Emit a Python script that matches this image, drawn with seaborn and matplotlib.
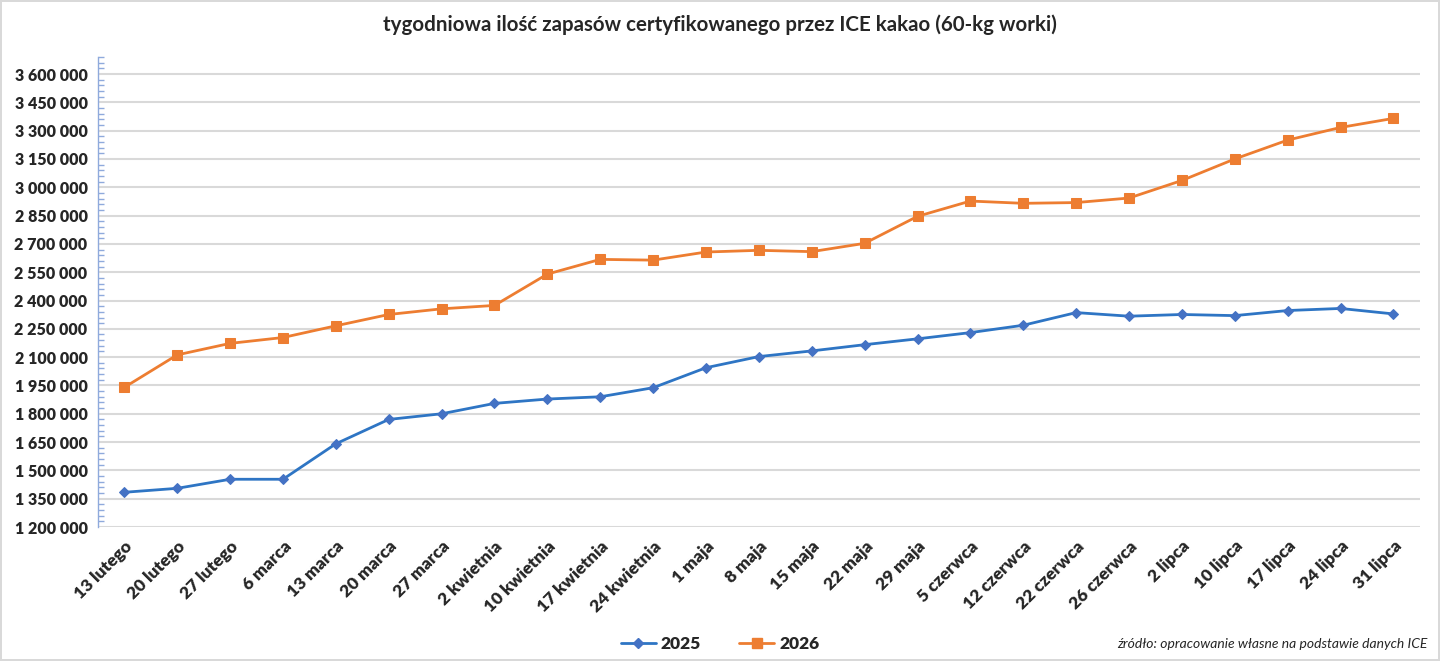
import pandas as pd
import matplotlib
matplotlib.use("Agg")
import matplotlib.pyplot as plt
import seaborn as sns
from matplotlib.ticker import FuncFormatter, MultipleLocator
from matplotlib.lines import Line2D

# Data
weeks = ["13 lutego", "20 lutego", "27 lutego", "6 marca", "13 marca", "20 marca",
         "27 marca", "2 kwietnia", "10 kwietnia", "17 kwietnia", "24 kwietnia",
         "1 maja", "8 maja", "15 maja", "22 maja", "29 maja", "5 czerwca",
         "12 czerwca", "22 czerwca", "26 czerwca", "2 lipca", "10 lipca",
         "17 lipca", "24 lipca", "31 lipca"]

stock_2025 = [1384000, 1405000, 1453000, 1453000, 1641000, 1770000, 1800000,
              1855000, 1878000, 1890000, 1938000, 2044000, 2103000, 2133000,
              2166000, 2197000, 2230000, 2269000, 2336000, 2317000, 2326000,
              2320000, 2347000, 2358000, 2329000]

stock_2026 = [1940000, 2112000, 2173000, 2204000, 2266000, 2326000, 2356000,
              2374000, 2540000, 2618000, 2614000, 2657000, 2666000, 2659000,
              2703000, 2846000, 2927000, 2915000, 2919000, 2943000, 3036000,
              3150000, 3250000, 3317000, 3365000]

df = pd.DataFrame({"pos": range(len(weeks)), "2025": stock_2025, "2026": stock_2026})

sns.set_style("white")
plt.rcParams['font.family'] = ['Lato', 'DejaVu Sans']

fig = plt.figure(figsize=(14.4, 6.61), dpi=100)
fig.patch.set_edgecolor("#D9D9D9")
fig.patch.set_linewidth(1.5)
ax = fig.add_axes([0.068, 0.2027, 0.918, 0.711])

blue_line = "#2E75C4"
blue_mark = "#4472C4"
orange = "#ED7D31"

sns.lineplot(data=df, x="pos", y="2025", ax=ax, color=blue_line, linewidth=2,
             marker="D", markersize=5, markerfacecolor=blue_mark,
             markeredgecolor=blue_mark, sort=False)
sns.lineplot(data=df, x="pos", y="2026", ax=ax, color=orange, linewidth=2,
             marker="s", markersize=7, markerfacecolor=orange,
             markeredgecolor=orange, sort=False)

ax.set_xlim(-0.5, len(weeks) - 0.5)
ax.set_ylim(1200000, 3690000)
major = list(range(1200000, 3600001, 150000))
ax.set_yticks(major)
ax.yaxis.set_minor_locator(MultipleLocator(30000))
ax.yaxis.set_major_formatter(FuncFormatter(lambda v, p: f"{v:,.0f}".replace(",", " ")))
for v in major:
    ax.axhline(v, color="#D9D9D9", linewidth=1.5, zorder=0)

ax.set_xticks(range(len(weeks)))
ax.set_xticklabels(weeks, rotation=45, ha="right", rotation_mode="anchor",
                   fontsize=12.5, fontweight="heavy")
for lbl in ax.get_yticklabels():
    lbl.set_fontweight("heavy")
    lbl.set_fontsize(11.5)

ax.tick_params(axis="x", length=0, pad=8)
ax.tick_params(axis="y", which="major", direction="inout", length=7,
               color="#8FAADC", width=1, pad=4)
ax.tick_params(axis="y", which="minor", direction="in", length=4,
               color="#8FAADC", width=1, left=True)

for side in ["top", "right", "bottom"]:
    ax.spines[side].set_visible(False)
ax.spines["left"].set_color("#8FAADC")
ax.spines["left"].set_linewidth(1)
ax.set_xlabel("")
ax.set_ylabel("")

fig.text(0.5, 0.962, "tygodniowa ilość zapasów certyfikowanego przez ICE kakao (60-kg worki)",
         ha="center", va="center", fontsize=14.8, fontweight="bold")

handles = [
    Line2D([], [], color=blue_line, linewidth=2, marker="D", markersize=5,
           markerfacecolor=blue_mark, markeredgecolor=blue_mark),
    Line2D([], [], color=orange, linewidth=2, marker="s", markersize=7,
           markerfacecolor=orange, markeredgecolor=orange),
]
fig.legend(handles, ["2025", "2026"], loc="center", bbox_to_anchor=(0.5, 0.025),
           ncol=2, frameon=False, handlelength=2.0, handletextpad=0.3,
           columnspacing=2.2, prop={"weight": "heavy", "size": 12.5})

fig.text(0.991, 0.025, "źródło: opracowanie własne na podstawie danych ICE",
         ha="right", va="center", fontsize=10, style="italic")

fig.savefig("out.png", dpi=100)
